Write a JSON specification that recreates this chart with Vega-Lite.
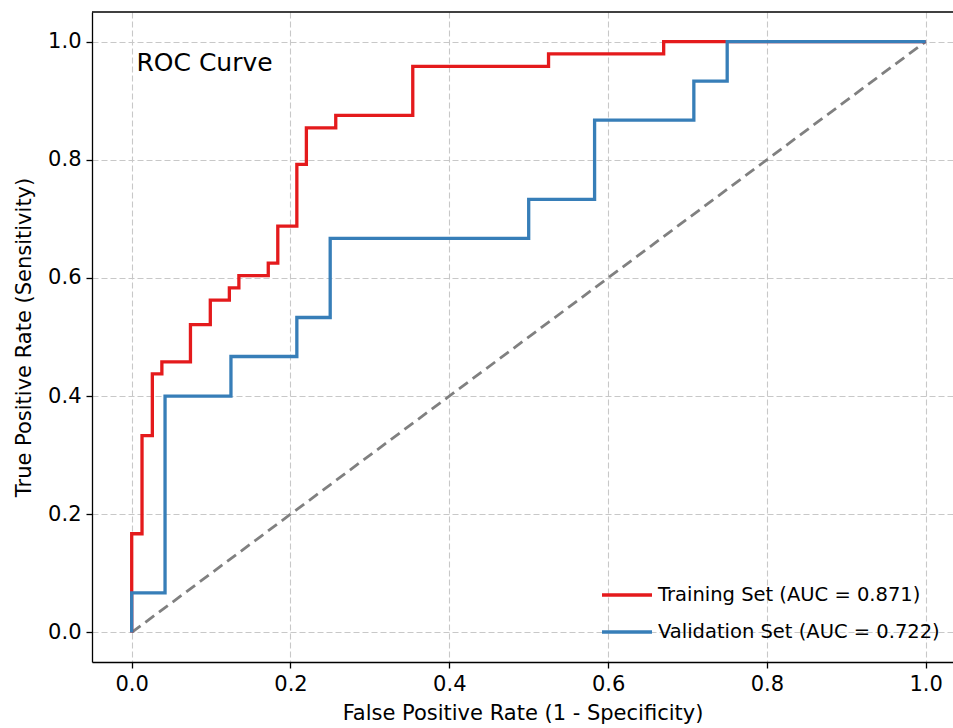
{
  "$schema": "https://vega.github.io/schema/vega-lite/v6.json",
  "width": 861,
  "height": 650,
  "autosize": {"type": "none"},
  "padding": {"left": 92, "top": 12, "right": 0, "bottom": 66},
  "background": "white",
  "config": {
    "view": {"stroke": null, "strokeWidth": 0},
    "font": "DejaVu Sans",
    "axis": {
      "domain": false,
      "domainColor": "black",
      "domainWidth": 1.3,
      "tickColor": "black",
      "tickWidth": 1.3,
      "tickSize": 6,
      "labelFontSize": 21,
      "labelColor": "black",
      "labelPadding": 5,
      "titleFontSize": 21,
      "titleFontWeight": "normal",
      "titleColor": "black",
      "gridColor": "#c8c8c8",
      "gridDash": [6, 3],
      "gridWidth": 1.1
    },
    "axisRight": {"domain": false, "ticks": false, "labels": false, "grid": false},
    "legend": {
      "labelFontSize": 19.5,
      "labelColor": "black",
      "labelLimit": 500,
      "padding": 0
    }
  },
  "datasets": {
    "roc": [
      {"set": "Training Set (AUC = 0.871)", "i": 0, "fpr": 0, "tpr": 0},
      {"set": "Training Set (AUC = 0.871)", "i": 1, "fpr": 0, "tpr": 0.167},
      {"set": "Training Set (AUC = 0.871)", "i": 2, "fpr": 0.013, "tpr": 0.167},
      {"set": "Training Set (AUC = 0.871)", "i": 3, "fpr": 0.013, "tpr": 0.333},
      {"set": "Training Set (AUC = 0.871)", "i": 4, "fpr": 0.026, "tpr": 0.333},
      {"set": "Training Set (AUC = 0.871)", "i": 5, "fpr": 0.026, "tpr": 0.4375},
      {"set": "Training Set (AUC = 0.871)", "i": 6, "fpr": 0.038, "tpr": 0.4375},
      {"set": "Training Set (AUC = 0.871)", "i": 7, "fpr": 0.038, "tpr": 0.458},
      {"set": "Training Set (AUC = 0.871)", "i": 8, "fpr": 0.074, "tpr": 0.458},
      {"set": "Training Set (AUC = 0.871)", "i": 9, "fpr": 0.074, "tpr": 0.521},
      {"set": "Training Set (AUC = 0.871)", "i": 10, "fpr": 0.099, "tpr": 0.521},
      {"set": "Training Set (AUC = 0.871)", "i": 11, "fpr": 0.099, "tpr": 0.5625},
      {"set": "Training Set (AUC = 0.871)", "i": 12, "fpr": 0.123, "tpr": 0.5625},
      {"set": "Training Set (AUC = 0.871)", "i": 13, "fpr": 0.123, "tpr": 0.583},
      {"set": "Training Set (AUC = 0.871)", "i": 14, "fpr": 0.135, "tpr": 0.583},
      {"set": "Training Set (AUC = 0.871)", "i": 15, "fpr": 0.135, "tpr": 0.604},
      {"set": "Training Set (AUC = 0.871)", "i": 16, "fpr": 0.172, "tpr": 0.604},
      {"set": "Training Set (AUC = 0.871)", "i": 17, "fpr": 0.172, "tpr": 0.625},
      {"set": "Training Set (AUC = 0.871)", "i": 18, "fpr": 0.184, "tpr": 0.625},
      {"set": "Training Set (AUC = 0.871)", "i": 19, "fpr": 0.184, "tpr": 0.6875},
      {"set": "Training Set (AUC = 0.871)", "i": 20, "fpr": 0.208, "tpr": 0.6875},
      {"set": "Training Set (AUC = 0.871)", "i": 21, "fpr": 0.208, "tpr": 0.792},
      {"set": "Training Set (AUC = 0.871)", "i": 22, "fpr": 0.220, "tpr": 0.792},
      {"set": "Training Set (AUC = 0.871)", "i": 23, "fpr": 0.220, "tpr": 0.854},
      {"set": "Training Set (AUC = 0.871)", "i": 24, "fpr": 0.257, "tpr": 0.854},
      {"set": "Training Set (AUC = 0.871)", "i": 25, "fpr": 0.257, "tpr": 0.875},
      {"set": "Training Set (AUC = 0.871)", "i": 26, "fpr": 0.354, "tpr": 0.875},
      {"set": "Training Set (AUC = 0.871)", "i": 27, "fpr": 0.354, "tpr": 0.958},
      {"set": "Training Set (AUC = 0.871)", "i": 28, "fpr": 0.525, "tpr": 0.958},
      {"set": "Training Set (AUC = 0.871)", "i": 29, "fpr": 0.525, "tpr": 0.979},
      {"set": "Training Set (AUC = 0.871)", "i": 30, "fpr": 0.670, "tpr": 0.979},
      {"set": "Training Set (AUC = 0.871)", "i": 31, "fpr": 0.670, "tpr": 1.0},
      {"set": "Training Set (AUC = 0.871)", "i": 32, "fpr": 1.0, "tpr": 1.0},
      {"set": "Validation Set (AUC = 0.722)", "i": 0, "fpr": 0, "tpr": 0},
      {"set": "Validation Set (AUC = 0.722)", "i": 1, "fpr": 0, "tpr": 0.067},
      {"set": "Validation Set (AUC = 0.722)", "i": 2, "fpr": 0.042, "tpr": 0.067},
      {"set": "Validation Set (AUC = 0.722)", "i": 3, "fpr": 0.042, "tpr": 0.4},
      {"set": "Validation Set (AUC = 0.722)", "i": 4, "fpr": 0.125, "tpr": 0.4},
      {"set": "Validation Set (AUC = 0.722)", "i": 5, "fpr": 0.125, "tpr": 0.467},
      {"set": "Validation Set (AUC = 0.722)", "i": 6, "fpr": 0.208, "tpr": 0.467},
      {"set": "Validation Set (AUC = 0.722)", "i": 7, "fpr": 0.208, "tpr": 0.533},
      {"set": "Validation Set (AUC = 0.722)", "i": 8, "fpr": 0.25, "tpr": 0.533},
      {"set": "Validation Set (AUC = 0.722)", "i": 9, "fpr": 0.25, "tpr": 0.667},
      {"set": "Validation Set (AUC = 0.722)", "i": 10, "fpr": 0.5, "tpr": 0.667},
      {"set": "Validation Set (AUC = 0.722)", "i": 11, "fpr": 0.5, "tpr": 0.733},
      {"set": "Validation Set (AUC = 0.722)", "i": 12, "fpr": 0.583, "tpr": 0.733},
      {"set": "Validation Set (AUC = 0.722)", "i": 13, "fpr": 0.583, "tpr": 0.867},
      {"set": "Validation Set (AUC = 0.722)", "i": 14, "fpr": 0.708, "tpr": 0.867},
      {"set": "Validation Set (AUC = 0.722)", "i": 15, "fpr": 0.708, "tpr": 0.933},
      {"set": "Validation Set (AUC = 0.722)", "i": 16, "fpr": 0.75, "tpr": 0.933},
      {"set": "Validation Set (AUC = 0.722)", "i": 17, "fpr": 0.75, "tpr": 1.0},
      {"set": "Validation Set (AUC = 0.722)", "i": 18, "fpr": 1.0, "tpr": 1.0}
    ],
    "diag": [
      {"fpr": 0, "tpr": 0},
      {"fpr": 1, "tpr": 1}
    ],
    "note": [
      {"label": "ROC Curve", "fpr": 0.006, "tpr": 0.951}
    ],
    "frame": [
      {"tpr": 1.05}
    ]
  },
  "layer": [
    {
      "data": {"name": "diag"},
      "mark": {"type": "line", "color": "#808080", "strokeDash": [11, 6], "strokeWidth": 2.8},
      "encoding": {
        "x": {
          "field": "fpr", "type": "quantitative",
          "scale": {"domain": [-0.05, 1.0344], "nice": false, "zero": false},
          "axis": {"values": [0, 0.2, 0.4, 0.6, 0.8, 1.0], "format": ".1f", "title": "False Positive Rate (1 - Specificity)", "grid": true, "titlePadding": 8, "domain": true}
        },
        "y": {
          "field": "tpr", "type": "quantitative",
          "scale": {"domain": [-0.05, 1.05], "nice": false, "zero": false},
          "axis": {"values": [0, 0.2, 0.4, 0.6, 0.8, 1.0], "format": ".1f", "title": "True Positive Rate (Sensitivity)", "grid": true, "titlePadding": 13, "domain": true}
        }
      }
    },
    {
      "data": {"name": "frame"},
      "mark": {"type": "rule", "color": "black", "strokeWidth": 1.3},
      "encoding": {
        "y": {"field": "tpr", "type": "quantitative"}
      }
    },
    {
      "data": {"name": "roc"},
      "mark": {"type": "line", "strokeWidth": 3.3},
      "encoding": {
        "x": {"field": "fpr", "type": "quantitative"},
        "y": {"field": "tpr", "type": "quantitative"},
        "order": {"field": "i", "type": "quantitative"},
        "color": {
          "field": "set", "type": "nominal",
          "scale": {"domain": ["Training Set (AUC = 0.871)", "Validation Set (AUC = 0.722)"], "range": ["#e41a1c", "#377eb8"]},
          "legend": {
            "title": null,
            "orient": "none",
            "legendX": 508,
            "legendY": 556,
            "symbolType": "stroke",
            "symbolSize": 2500,
            "symbolStrokeWidth": 3.3,
            "rowPadding": -21,
            "labelOffset": 4
          }
        }
      }
    },
    {
      "data": {"name": "note"},
      "mark": {"type": "text", "align": "left", "baseline": "alphabetic", "fontSize": 25, "color": "black"},
      "encoding": {
        "x": {"field": "fpr", "type": "quantitative"},
        "y": {"field": "tpr", "type": "quantitative"},
        "text": {"field": "label"}
      }
    }
  ]
}
